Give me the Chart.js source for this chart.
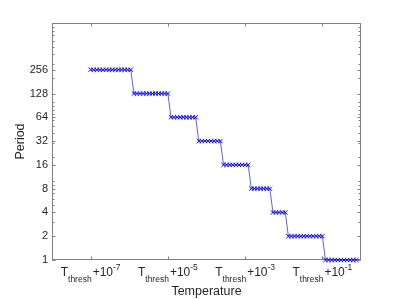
<!DOCTYPE html>
<html><head><meta charset="utf-8">
<script src="https://cdn.jsdelivr.net/npm/chart.js@4"></script>
<style>html,body{margin:0;padding:0;background:#fff;overflow:hidden}canvas{display:block}</style>
</head><body>
<canvas id="c" width="399" height="299"></canvas>
<script>
// log10 of (T - T_thresh) for each sample
const offsetExp = [
  -7.00,-6.92,-6.84,-6.76,-6.68,-6.60,-6.52,-6.44,-6.36,-6.28,-6.20,-6.12,-6.04,-5.96,
  -5.88,-5.80,-5.72,-5.64,-5.56,-5.48,-5.40,-5.32,-5.24,-5.16,-5.08,-5.00,
  -4.92,-4.84,-4.76,-4.68,-4.60,-4.52,-4.44,-4.36,-4.28,
  -4.20,-4.12,-4.04,-3.96,-3.88,-3.80,-3.72,-3.64,
  -3.56,-3.48,-3.40,-3.32,-3.24,-3.16,-3.08,-3.00,-2.92,
  -2.84,-2.76,-2.68,-2.60,-2.52,-2.44,-2.36,
  -2.28,-2.20,-2.12,-2.04,-1.96,
  -1.88,-1.80,-1.72,-1.64,-1.56,-1.48,-1.40,-1.32,-1.24,-1.16,-1.08,-1.00,
  -0.92,-0.84,-0.76,-0.68,-0.60,-0.52,-0.44,-0.36,-0.28,-0.20,-0.12
];
const period = [
  256,256,256,256,256,256,256,256,256,256,256,256,256,256,
  128,128,128,128,128,128,128,128,128,128,128,128,
  64,64,64,64,64,64,64,64,64,
  32,32,32,32,32,32,32,32,
  16,16,16,16,16,16,16,16,16,
  8,8,8,8,8,8,8,
  4,4,4,4,4,
  2,2,2,2,2,2,2,2,2,2,2,2,
  1,1,1,1,1,1,1,1,1,1,1
];
const yTickValues = [1,2,4,8,16,32,64,128,256];
const xTickExp = [-7,-5,-3,-1];
const xTickMain = 'T';
const xTickSub = 'thresh';
const xTickPlus = '+10';
const xTickSup = ['-7','-5','-3','-1'];
const xTitle = 'Temperature';
const yTitle = 'Period';

const FONT = "'Liberation Sans', Arial, Helvetica, sans-serif";
const AXIS = '#808080';
const TXT = '#262626';

const framePlugin = {
  id: 'frame',
  beforeDatasetsDraw(chart) {
    const {ctx, chartArea: a, scales: {x, y}} = chart;
    ctx.save();
    ctx.strokeStyle = AXIS; ctx.lineWidth = 1;
    const L = Math.round(a.left) + 0.5, R = Math.round(a.right) - 0.5;
    const T = Math.round(a.top) + 0.5, B = Math.round(a.bottom) - 0.5;
    ctx.strokeRect(L, T, R - L, B - T);
    ctx.beginPath();
    xTickExp.forEach(e => {
      const px = Math.round(x.getPixelForValue(Math.pow(10, e))) + 0.5;
      ctx.moveTo(px, B); ctx.lineTo(px, B - 3);
      ctx.moveTo(px, T); ctx.lineTo(px, T + 3);
    });
    for (let d = 1; d < 1000; d *= 10) {
      for (let m = 1; m < 10; m++) {
        const py = Math.round(y.getPixelForValue(d * m)) + 0.5;
        ctx.moveTo(L, py); ctx.lineTo(L + 2, py);
        ctx.moveTo(R, py); ctx.lineTo(R - 2, py);
      }
    }
    yTickValues.forEach(v => {
      const py = Math.round(y.getPixelForValue(v)) + 0.5;
      ctx.moveTo(L, py); ctx.lineTo(L + 3, py);
      ctx.moveTo(R, py); ctx.lineTo(R - 3, py);
    });
    ctx.stroke();

    // x tick labels with subscript / superscript
    ctx.fillStyle = TXT;
    ctx.textBaseline = 'alphabetic';
    ctx.textAlign = 'left';
    const fMain = '12px ' + FONT, fSmall = '8.5px ' + FONT;
    xTickExp.forEach((e, i) => {
      const px = x.getPixelForValue(Math.pow(10, e));
      ctx.font = fMain;
      const wT = ctx.measureText(xTickMain).width, wP = ctx.measureText(xTickPlus).width;
      ctx.font = fSmall;
      const wS = ctx.measureText(xTickSub).width, wE = ctx.measureText(xTickSup[i]).width;
      let xx = px - (wT + wS + wP + wE + 1) / 2;
      ctx.font = fMain; ctx.fillText(xTickMain, xx, 276); xx += wT;
      ctx.font = fSmall; ctx.fillText(xTickSub, xx, 282); xx += wS + 1;
      ctx.font = fMain; ctx.fillText(xTickPlus, xx, 276); xx += wP;
      ctx.font = fSmall; ctx.fillText(xTickSup[i], xx, 270);
    });
    ctx.restore();
  }
};

new Chart(document.getElementById('c'), {
  type: 'scatter',
  data: {
    datasets: [{
      data: offsetExp.map((e, i) => ({x: Math.pow(10, e), y: period[i]})),
      showLine: true,
      clip: 6,
      borderColor: 'rgba(40,40,255,0.75)',
      borderWidth: 1,
      pointStyle: 'crossRot',
      pointRadius: 3,
      pointBorderWidth: 1,
      pointBorderColor: '#0000ff',
      pointBackgroundColor: '#0000ff'
    }]
  },
  options: {
    responsive: false, animation: false, events: [],
    layout: {padding: {top: 23, right: 38, left: 0, bottom: 0}},
    plugins: {legend: {display: false}, tooltip: {enabled: false}},
    scales: {
      x: {
        type: 'logarithmic', min: 1e-8, max: 1,
        grid: {display: false, drawTicks: false}, border: {display: false},
        ticks: {display: false},
        title: {display: true, text: xTitle, font: {family: FONT, size: 12.5}, color: TXT, padding: {top: 0, bottom: 0}},
        afterFit(s) { s.height = 39; }
      },
      y: {
        type: 'logarithmic', min: 1, max: 1000,
        grid: {display: false, drawTicks: false}, border: {display: false},
        afterBuildTicks(s) { s.ticks = yTickValues.map(v => ({value: v})); },
        ticks: {font: {family: FONT, size: 11}, color: TXT, padding: 4, autoSkip: false, maxRotation: 0,
                callback: (v) => String(v)},
        title: {display: true, text: yTitle, font: {family: FONT, size: 12.5}, color: TXT, padding: {top: 13, bottom: 0}},
        afterFit(s) { s.width = 52; }
      }
    }
  },
  plugins: [framePlugin]
});
</script>
</body></html>
